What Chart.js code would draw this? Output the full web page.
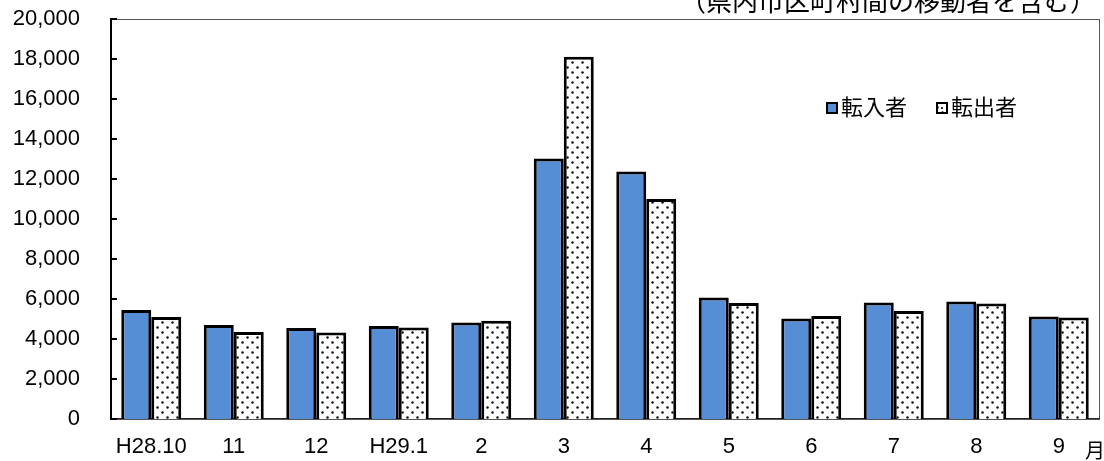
<!DOCTYPE html>
<html>
<head>
<meta charset="utf-8">
<script src="https://cdn.jsdelivr.net/npm/chart.js@4/dist/chart.umd.min.js"></script>
<style>
  html, body { margin: 0; padding: 0; background: #fff; }
  canvas { display: block; }
</style>
</head>
<body>
<canvas id="moveChart" width="1104" height="461"></canvas>
<script>
// ----------------------------------------------------------
// DATA
// ----------------------------------------------------------
const months = ["H28.10", "11", "12", "H29.1", "2", "3", "4", "5", "6", "7", "8", "9"];
const tennyu = [5450, 4700, 4550, 4650, 4830, 13030, 12370, 6080, 5030, 5820, 5880, 5120];
const tenshutsu = [5100, 4350, 4330, 4570, 4910, 18110, 11000, 5800, 5150, 5400, 5780, 5070];
const seriesNames = ["転入者", "転出者"];
const yTicks = [0, 2000, 4000, 6000, 8000, 10000, 12000, 14000, 16000, 18000, 20000];
const noteText = "（県内市区町村間の移動者を含む）";
const unitText = "月";

const FONT = "'Liberation Sans', 'Noto Sans CJK JP', sans-serif";
const BLUE = "#558ED5";

// ----------------------------------------------------------
// DOT PATTERN FOR 転出者
// ----------------------------------------------------------
function makeDots() {
    const tile = document.createElement("canvas");
    tile.width = 10;
    tile.height = 10;
    const t = tile.getContext("2d");
    t.fillStyle = "#fff";
    t.fillRect(0, 0, 10, 10);
    t.fillStyle = "#111";
    [[2.5, 2.5], [7.5, 7.5]].forEach(p => {
        t.beginPath();
        t.arc(p[0], p[1], 1.25, 0, Math.PI * 2);
        t.fill();
    });
    return document.getElementById("moveChart").getContext("2d").createPattern(tile, "repeat");
}
const dots = makeDots();

// ----------------------------------------------------------
// EXTRAS: frame, axis ticks, legend, note, unit
// ----------------------------------------------------------
const extras = {
    id: "extras",
    beforeDatasetsDraw(chart) {
        const ctx = chart.ctx;
        const a = chart.chartArea;
        const yScale = chart.scales.y;
        ctx.save();
        // light frame on top / right
        ctx.strokeStyle = "#555";
        ctx.lineWidth = 1;
        ctx.strokeRect(a.left + 0.5, a.top + 0.5, a.right - a.left - 1, a.bottom - a.top);
        // bottom axis
        ctx.strokeStyle = "#222";
        ctx.beginPath();
        ctx.moveTo(a.left, a.bottom - 0.5);
        ctx.lineTo(a.right, a.bottom - 0.5);
        ctx.stroke();
        // left axis + inward ticks
        ctx.strokeStyle = "#000";
        ctx.lineWidth = 2;
        ctx.beginPath();
        ctx.moveTo(a.left + 1, a.top);
        ctx.lineTo(a.left + 1, a.bottom);
        ctx.stroke();
        yTicks.forEach(v => {
            const py = Math.round(yScale.getPixelForValue(v));
            ctx.beginPath();
            ctx.moveTo(a.left, py);
            ctx.lineTo(a.left + 7, py);
            ctx.stroke();
        });
        ctx.restore();
    },
    afterDraw(chart) {
        const ctx = chart.ctx;
        ctx.save();
        ctx.fillStyle = "#000";

        // note at top right
        ctx.font = "26px " + FONT;
        ctx.textAlign = "right";
        ctx.textBaseline = "alphabetic";
        ctx.fillText(noteText, 1096, 11);

        // unit label
        ctx.font = "20px " + FONT;
        ctx.textAlign = "left";
        ctx.textBaseline = "top";
        ctx.fillText(unitText, 1085, 442);

        // legend
        ctx.font = "22px " + FONT;
        ctx.textBaseline = "middle";
        let x = 827;
        const y = 108;
        chart.data.datasets.forEach((ds, i) => {
            ctx.fillStyle = ds.backgroundColor;
            ctx.fillRect(x, y - 5, 10, 10);
            ctx.strokeStyle = "#000";
            ctx.lineWidth = 2;
            ctx.strokeRect(x, y - 5, 10, 10);
            if (i === 1) {
                ctx.fillStyle = "#333";
                ctx.fillRect(x + 4, y - 1, 2, 2);
            }
            ctx.fillStyle = "#000";
            ctx.fillText(ds.label, x + 14, y + 1);
            x += 14 + ctx.measureText(ds.label).width + 30;
        });
        ctx.restore();
    }
};

// ----------------------------------------------------------
// CHART
// ----------------------------------------------------------
new Chart(document.getElementById("moveChart").getContext("2d"), {
    type: "bar",
    data: {
        labels: months,
        datasets: [{
            label: seriesNames[0],
            data: tennyu,
            backgroundColor: BLUE,
            borderColor: "#000",
            borderWidth: 3,
            borderSkipped: "bottom",
            categoryPercentage: 0.727,
            barPercentage: 1.0
        }, {
            label: seriesNames[1],
            data: tenshutsu,
            backgroundColor: dots,
            borderColor: "#000",
            borderWidth: 3,
            borderSkipped: "bottom",
            categoryPercentage: 0.727,
            barPercentage: 1.0
        }]
    },
    options: {
        responsive: false,
        animation: false,
        layout: { padding: { top: 19, right: 4, left: 0, bottom: 0 } },
        plugins: {
            legend: { display: false },
            tooltip: { enabled: false }
        },
        scales: {
            x: {
                grid: { display: false, drawTicks: false },
                border: { display: false },
                ticks: {
                    color: "#000",
                    font: { family: FONT, size: 22 },
                    padding: 15,
                    maxRotation: 0,
                    autoSkip: false
                },
                afterFit(scale) {
                    scale.height = 42;
                    scale.paddingLeft = 0;
                    scale.paddingRight = 0;
                }
            },
            y: {
                min: 0,
                max: 20000,
                grid: { display: false, drawTicks: false },
                border: { display: false },
                afterBuildTicks(scale) {
                    scale.ticks = yTicks.map(v => ({ value: v }));
                },
                ticks: {
                    color: "#000",
                    font: { family: FONT, size: 22 },
                    padding: 30,
                    callback: v => v.toLocaleString("en-US")
                },
                afterFit(scale) {
                    scale.width = 110;
                    scale.paddingTop = 0;
                    scale.paddingBottom = 0;
                }
            }
        }
    },
    plugins: [extras]
});
</script>
</body>
</html>
